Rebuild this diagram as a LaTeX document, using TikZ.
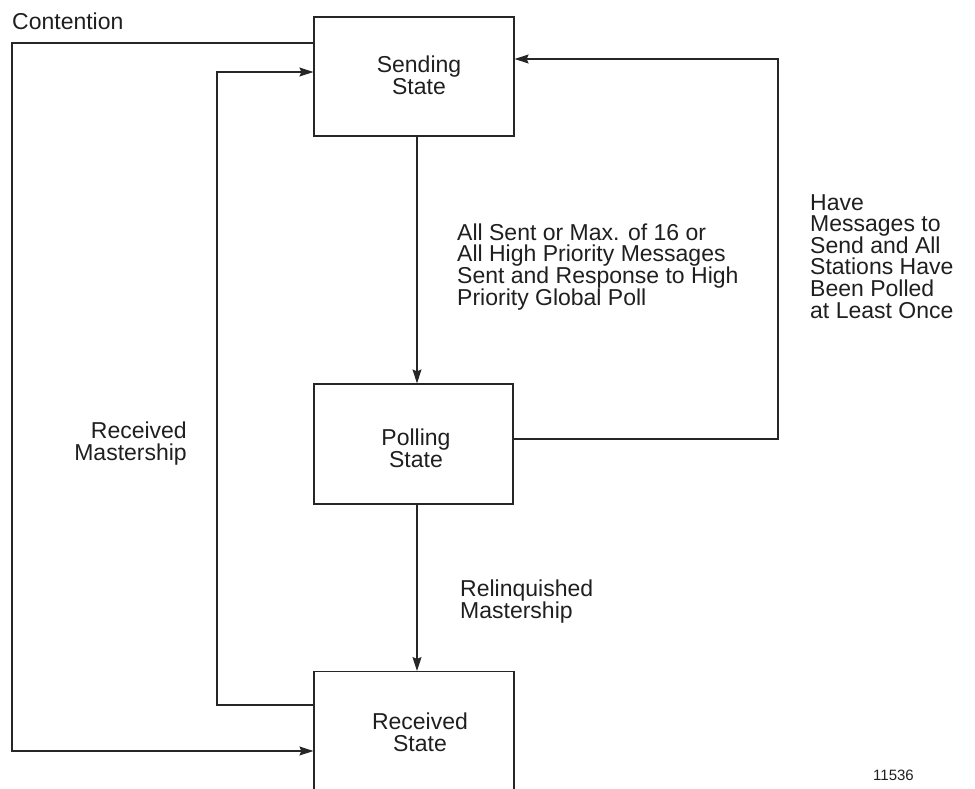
\documentclass[tikz,border=0pt]{standalone}
\usepackage{fontspec}
\setmainfont{Liberation Sans}
\usetikzlibrary{arrows.meta}
\definecolor{linec}{gray}{0.15}
\definecolor{textc}{gray}{0.12}
\tikzset{
  statebox/.style={draw=linec, line width=1.2pt, minimum width=200pt, inner sep=0pt},
  arr/.style={draw=linec, line width=1.1pt, -{Stealth[length=14pt,width=9pt,inset=2pt]}},
  lbl/.style={font=\fontsize{23}{21.6}\selectfont, text=textc, inner sep=0pt},
}
\begin{document}
\begin{tikzpicture}[x=1pt,y=-1pt]
\useasboundingbox (0,0) rectangle (975,788);
\clip (0,0) rectangle (975,788);
% boxes
\node[statebox, minimum height=119pt] (snd) at (414,76.5) {};
\node[statebox, minimum height=120pt, minimum width=199pt] (pol) at (413.5,444) {};
\node[statebox, minimum height=240pt, anchor=north] (recv) at (414,671) {};
% box texts (base = baseline of last line)
\node[lbl, align=center, anchor=base] (sndt) at (419,94) {Sending\\State};
\node[lbl, align=center, anchor=base] (polt) at (416,467) {Polling\\State};
\node[lbl, align=center, anchor=base] (recvt) at (420,751) {Received\\State};
% coordinates
\coordinate (cA) at (12,43);
\coordinate (cB) at (12,751);
\coordinate (cC) at (217,705);
\coordinate (cD) at (217,72);
\coordinate (cE) at (778,439);
\coordinate (cF) at (778,59);
\coordinate (cG) at (417,0);
% connectors
\draw[arr] (snd.west |- cA) -- (cA) -- (cB) -- (recv.west |- cB);
\draw[arr] (recv.west |- cC) -- (cC) -- (cD) -- (snd.west |- cD);
\draw[arr] (pol.east |- cE) -- (cE) -- (cF) -- (snd.east |- cF);
\draw[arr] (snd.south -| cG) -- (pol.north -| cG);
\draw[arr] (pol.south -| cG) -- (recv.north -| cG);
% labels
\node[lbl, anchor=base west] (cont) at (12,29) {Contention};
\node[lbl, align=left, anchor=base west] (allsent) at (457,305) {All Sent or Max. of 16 or\\All High Priority Messages\\Sent and Response to High\\Priority Global Poll};
\node[lbl, align=left, anchor=base west] (have) at (810,318) {Have\\Messages to\\Send and All\\Stations Have\\Been Polled\\at Least Once};
\node[lbl, align=right, anchor=base east] (rmast) at (187,460) {Received\\Mastership};
\node[lbl, align=left, anchor=base west] (relq) at (460,618) {Relinquished\\Mastership};
\node[font=\fontsize{15}{17}\selectfont, text=textc, inner sep=0pt, anchor=base west] (num) at (873,780) {11536};
\end{tikzpicture}
\end{document}
